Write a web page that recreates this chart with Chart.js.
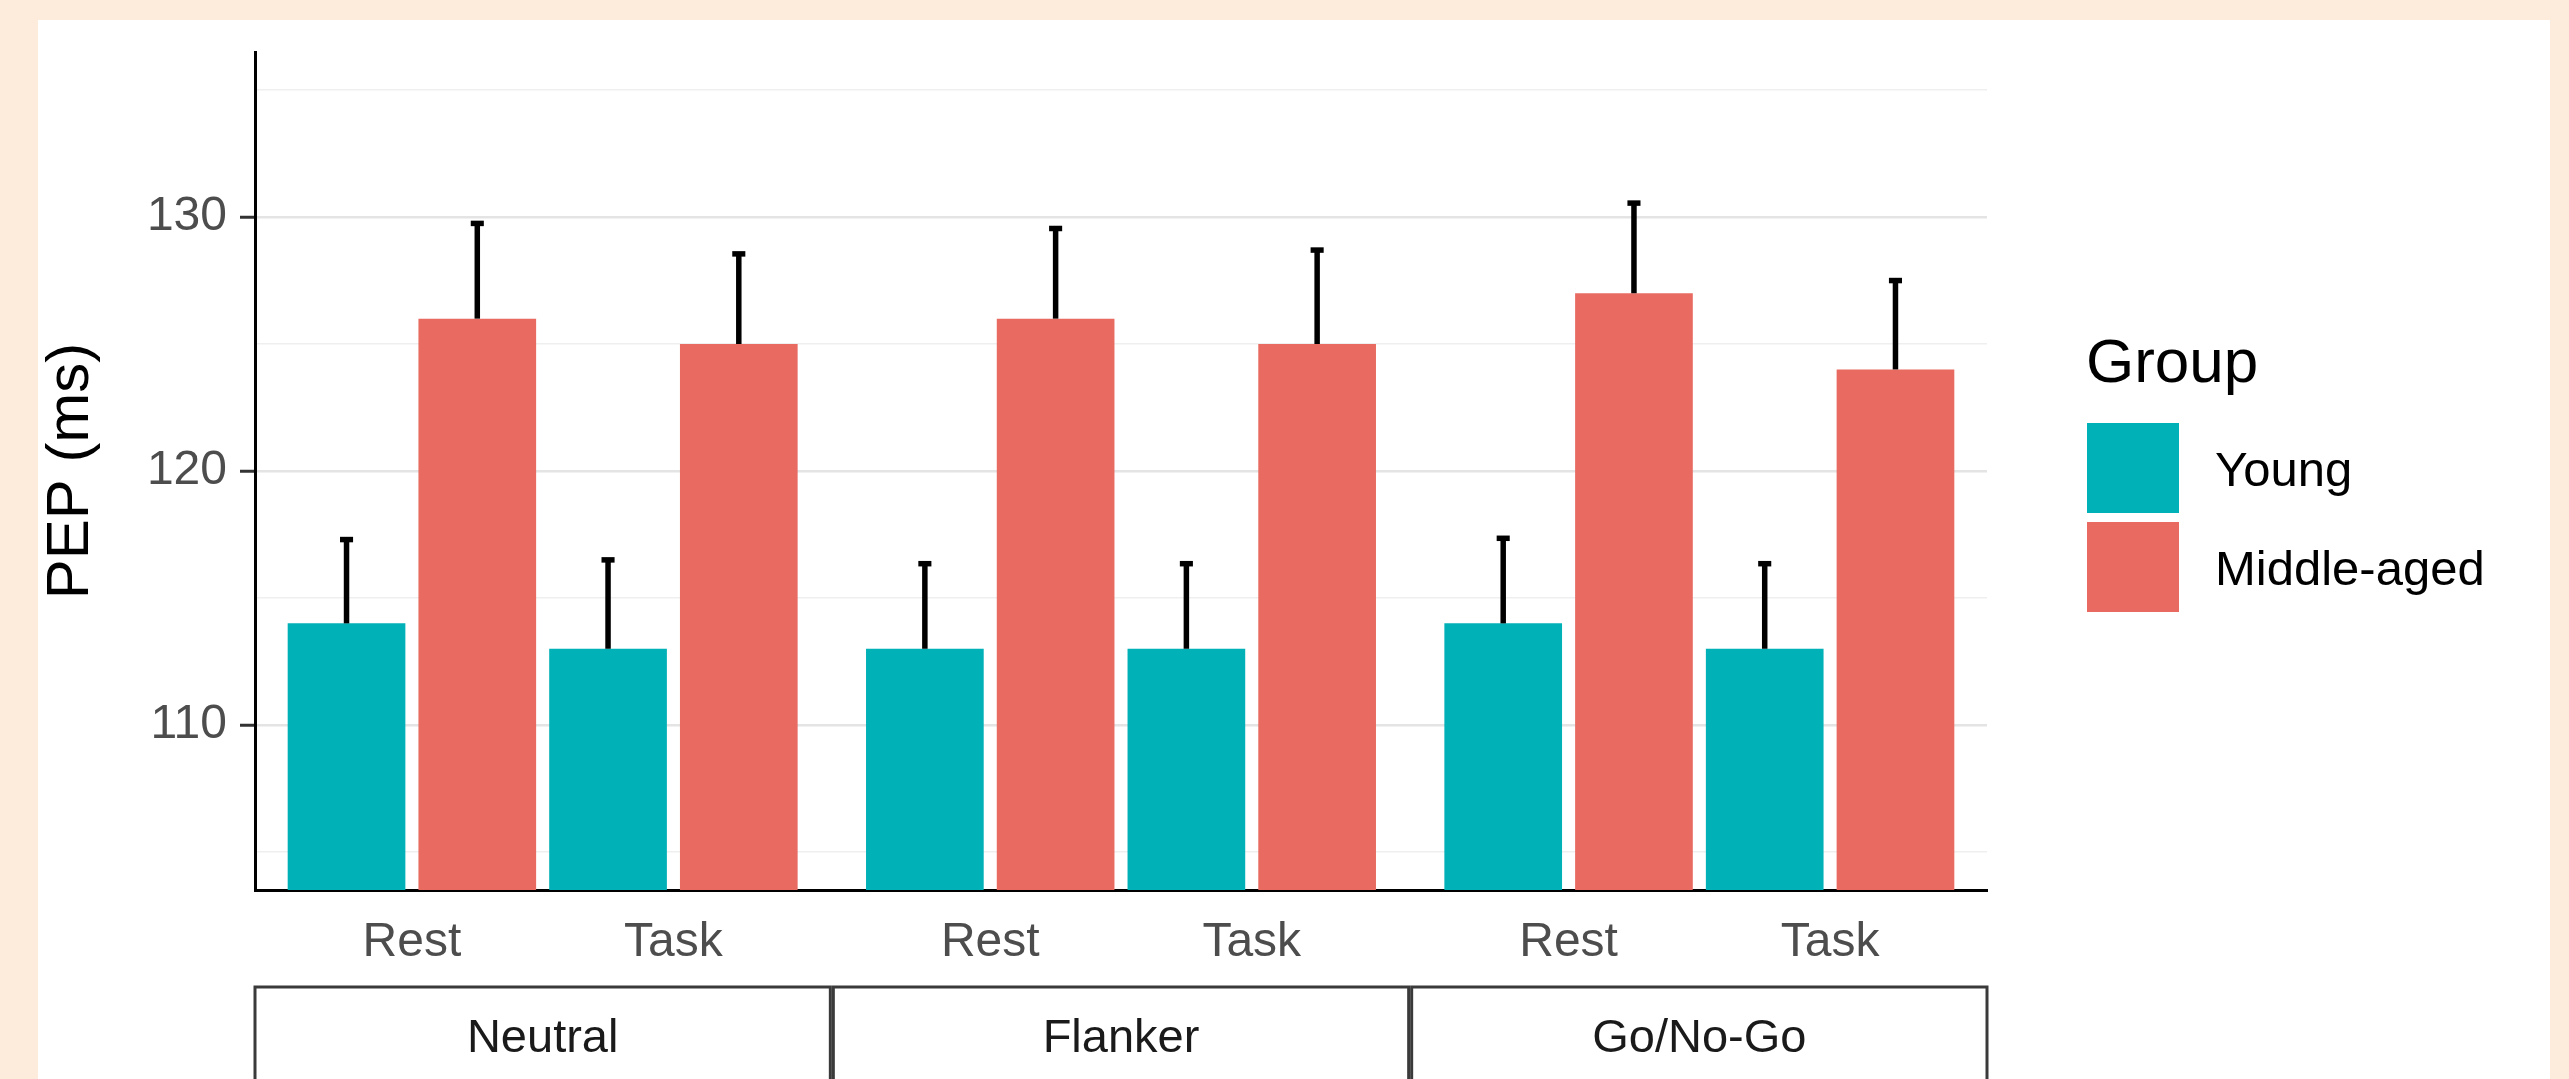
<!DOCTYPE html>
<html>
<head>
<meta charset="utf-8">
<script src="https://cdn.jsdelivr.net/npm/chart.js@4.4.1/dist/chart.umd.min.js"></script>
<style>
  html, body { margin:0; padding:0; width:2569px; height:1079px; overflow:hidden; background:#FDEBDC; }
  #panel { position:absolute; left:38px; top:20px; width:2512px; height:1059px; background:#ffffff; }
  canvas { display:block; }
</style>
</head>
<body>
<div id="panel"><canvas id="chart" width="2512" height="1059"></canvas></div>
<script>
// ---------------- data ----------------
const facets = ['Neutral', 'Flanker', 'Go/No-Go'];
const conditions = ['Rest', 'Task'];
const groups = ['Young', 'Middle-aged'];
// order: Neutral-Rest, Neutral-Task, Flanker-Rest, Flanker-Task, GoNoGo-Rest, GoNoGo-Task
const youngMean  = [114, 113, 113, 113, 114, 113];
const middleMean = [126, 125, 126, 125, 127, 124];
const youngSE    = [3.3, 3.5, 3.35, 3.35, 3.35, 3.35];
const middleSE   = [3.75, 3.55, 3.55, 3.7, 3.55, 3.5];
const yMajorTicks = [110, 120, 130];
const yMinorTicks = [105, 115, 125, 135];
const yLimits = [105, 135];
const yTitle = 'PEP (ms)';
const legendTitle = 'Group';

// ---------------- layout constants ----------------
const FONT = "'Liberation Sans', Arial, Helvetica, sans-serif";
const COLORS = ['#00B1B7', '#E86A60'];
const EXPAND = 0.6;                                  // discrete axis expansion
const PANEL = (conditions.length - 1) + 2 * EXPAND;  // panel width in x units
const GAP = 0.0115;                                  // spacing between facet panels
const DODGE = 0.5, BARW = 0.45, CAPW = 0.05;
const yPad = (yLimits[1] - yLimits[0]) * 0.05;

function centerOf(i) {
  const f = Math.floor(i / conditions.length), c = i % conditions.length;
  return f * (PANEL + GAP) + EXPAND + c;
}
const nCells = facets.length * conditions.length;
const centers = Array.from({length: nCells}, (_, i) => centerOf(i));
const means = [youngMean, middleMean];
const ses = [youngSE, middleSE];

const datasets = groups.map((g, k) => ({
  label: g,
  data: means[k].map((v, i) => ({ x: centers[i] + (k - 0.5) * DODGE, y: v })),
  backgroundColor: COLORS[k],
  borderWidth: 0,
  grouped: false,
  categoryPercentage: 1,
  barPercentage: BARW / DODGE
}));

// ---------------- plugins ----------------
const errorBars = {
  id: 'errorBars',
  afterDatasetsDraw(chart) {
    const ctx = chart.ctx, xs = chart.scales.x, ys = chart.scales.y;
    ctx.save();
    ctx.strokeStyle = '#000';
    ctx.lineWidth = 5.5;
    ctx.lineCap = 'butt';
    datasets.forEach((ds, k) => {
      const meta = chart.getDatasetMeta(k);
      meta.data.forEach((bar, i) => {
        const xv = ds.data[i].x;
        const top = ys.getPixelForValue(means[k][i] + ses[k][i]);
        const base = ys.getPixelForValue(means[k][i]);
        ctx.beginPath();
        ctx.moveTo(bar.x, base);
        ctx.lineTo(bar.x, top);
        ctx.stroke();
        ctx.beginPath();
        ctx.moveTo(xs.getPixelForValue(xv - CAPW / 2), top);
        ctx.lineTo(xs.getPixelForValue(xv + CAPW / 2), top);
        ctx.stroke();
      });
    });
    ctx.restore();
  }
};

const stripsAndLegend = {
  id: 'stripsAndLegend',
  afterDraw(chart) {
    const ctx = chart.ctx, xs = chart.scales.x;
    ctx.save();
    // facet strips (below the x axis labels)
    const sTop = 967, sBot = 1062;
    facets.forEach((f, k) => {
      const l = xs.getPixelForValue(k * (PANEL + GAP));
      const r = xs.getPixelForValue(k * (PANEL + GAP) + PANEL);
      ctx.fillStyle = '#fff';
      ctx.fillRect(l, sTop, r - l, sBot - sTop);
      ctx.strokeStyle = '#3A3A3A';
      ctx.lineWidth = 3;
      ctx.strokeRect(l, sTop, r - l, sBot - sTop);
      ctx.fillStyle = '#1A1A1A';
      ctx.font = '47px ' + FONT;
      ctx.textAlign = 'center';
      ctx.textBaseline = 'alphabetic';
      ctx.fillText(f, (l + r) / 2, 1032);
    });
    // legend
    const lx = 2048;
    ctx.textAlign = 'left';
    ctx.textBaseline = 'alphabetic';
    ctx.fillStyle = '#000';
    ctx.font = '62px ' + FONT;
    ctx.fillText(legendTitle, lx, 362);
    const keyTop = [403, 502], keyW = 92, keyH = 90;
    groups.forEach((g, k) => {
      ctx.fillStyle = COLORS[k];
      ctx.fillRect(lx + 1, keyTop[k], keyW, keyH);
      ctx.fillStyle = '#000';
      ctx.font = '49px ' + FONT;
      ctx.fillText(g, lx + 129, keyTop[k] + keyH / 2 + 18);
    });
    ctx.restore();
  }
};

function noScalePadding(s) {
  s.paddingTop = 0; s.paddingBottom = 0; s.paddingLeft = 0; s.paddingRight = 0;
}

// ---------------- chart ----------------
const isMajor = v => yMajorTicks.includes(v);

new Chart(document.getElementById('chart'), {
  type: 'bar',
  data: { datasets },
  options: {
    responsive: false,
    animation: false,
    events: [],
    layout: { padding: { left: 0, right: 563, top: 32, bottom: 0 } },
    plugins: { legend: { display: false }, tooltip: { enabled: false } },
    scales: {
      x: {
        type: 'linear',
        offset: false,
        min: 0,
        max: facets.length * PANEL + (facets.length - 1) * GAP,
        grid: { display: false, offset: false },
        border: { display: true, color: '#000', width: 3 },
        afterBuildTicks: s => { s.ticks = centers.map(v => ({ value: v })); },
        ticks: {
          autoSkip: false, maxRotation: 0, minRotation: 0,
          callback: (v, i) => conditions[i % conditions.length],
          font: { family: FONT, size: 48 },
          color: '#4D4D4D',
          padding: 16
        },
        afterFit: s => { s.height = 189; noScalePadding(s); }
      },
      y: {
        min: yLimits[0] - yPad,
        max: yLimits[1] + yPad,
        afterBuildTicks: s => {
          s.ticks = yMajorTicks.concat(yMinorTicks).sort((a, b) => a - b).map(v => ({ value: v }));
        },
        grid: {
          drawTicks: true,
          tickLength: 15,
          tickWidth: 3,
          color: c => (c.tick && isMajor(c.tick.value)) ? '#E4E4E4' : '#EFEFEF',
          lineWidth: c => (c.tick && isMajor(c.tick.value)) ? 2.5 : 1.4,
          tickColor: c => (c.tick && isMajor(c.tick.value)) ? '#333333' : 'rgba(0,0,0,0)'
        },
        border: { display: true, color: '#000', width: 3 },
        ticks: {
          callback: v => isMajor(v) ? String(v) : '',
          font: { family: FONT, size: 48 },
          color: '#4D4D4D',
          padding: 13
        },
        title: {
          display: true,
          text: yTitle,
          color: '#000',
          font: { family: FONT, size: 60, lineHeight: 1.1 },
          padding: 0
        },
        afterFit: s => { s.width = 217; noScalePadding(s); }
      }
    }
  },
  plugins: [errorBars, stripsAndLegend]
});
</script>
</body>
</html>
